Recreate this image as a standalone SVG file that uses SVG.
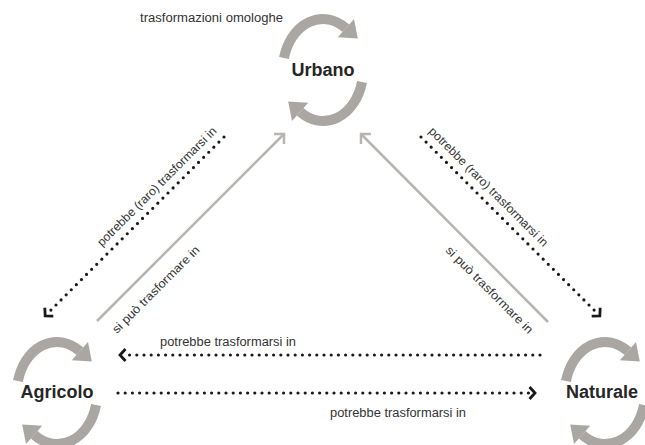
<svg xmlns="http://www.w3.org/2000/svg" xmlns:xlink="http://www.w3.org/1999/xlink" width="645" height="445" viewBox="0 0 645 445">
  <style>
    .bg { fill: #ffffff; }
    .cyc-arc { fill: none; stroke: #aaa7a3; stroke-width: 10; }
    .cyc-head { fill: #aaa7a3; }
    .node-label { font-family: "Liberation Sans", Arial, sans-serif; font-weight: bold; font-size: 18px; fill: #262626; text-anchor: middle; }
    .edge-label { font-family: "Liberation Sans", Arial, sans-serif; font-size: 12px; fill: #333333; }
    .dotted { fill: none; stroke: #1a1a1a; stroke-width: 3.2; stroke-linecap: round; stroke-dasharray: 0 7.2; }
    .solid { fill: none; stroke: #b8b5b1; stroke-width: 2.5; }
  </style>
  <defs>
    <!-- two-arrow cycle symbol drawn around a node label -->
    <g id="cycle">
      <path class="cyc-arc" d="M -39,-12 A 40 51 0 0 1 22.9,-41.8"/>
      <polygon class="cyc-head" points="31,-51 14.8,-32.7 34.8,-31.5"/>
      <path class="cyc-arc" d="M 39,12 A 40 51 0 0 1 -22.9,41.8"/>
      <polygon class="cyc-head" points="-31,51 -14.8,32.7 -34.8,31.5"/>
    </g>
    <marker id="chev-black" markerUnits="userSpaceOnUse" viewBox="-10 -10 20 20" markerWidth="20" markerHeight="20" refX="-4" refY="0" orient="auto">
      <path d="M -5.5,-6 L 0,0 L -5.5,6" fill="none" stroke="#1a1a1a" stroke-width="2.8" stroke-linejoin="miter"/>
    </marker>
    <marker id="chev-grey" markerUnits="userSpaceOnUse" viewBox="-10 -10 20 20" markerWidth="20" markerHeight="20" refX="0" refY="0" orient="auto">
      <path d="M -7,-7 L 0,0 L -7,7" fill="none" stroke="#b8b5b1" stroke-width="2.5"/>
    </marker>
  </defs>

  <rect class="bg" x="0" y="0" width="645" height="445"/>

  <!-- connectors -->
  <g id="connectors">
    <!-- solid: Agricolo / Naturale -> Urbano -->
    <line class="solid" x1="97" y1="321" x2="284" y2="134" marker-end="url(#chev-grey)"/>
    <line class="solid" x1="548" y1="322" x2="361" y2="134" marker-end="url(#chev-grey)"/>
    <!-- dotted: Urbano -> Agricolo / Naturale (rare) -->
    <line class="dotted" x1="224" y1="137" x2="48" y2="313" marker-end="url(#chev-black)"/>
    <line class="dotted" x1="421" y1="137" x2="597" y2="313" marker-end="url(#chev-black)"/>
    <!-- dotted: Naturale <-> Agricolo -->
    <line class="dotted" x1="540" y1="355" x2="124" y2="355" marker-end="url(#chev-black)"/>
    <line class="dotted" x1="118" y1="393" x2="531" y2="393" marker-end="url(#chev-black)"/>

    <text class="edge-label" transform="translate(102,247) rotate(-45)" textLength="163" lengthAdjust="spacingAndGlyphs">potrebbe (raro) trasformarsi in</text>
    <text class="edge-label" transform="translate(428,132) rotate(45)" textLength="163" lengthAdjust="spacingAndGlyphs">potrebbe (raro) trasformarsi in</text>
    <text class="edge-label" transform="translate(117,334) rotate(-45)" textLength="118" lengthAdjust="spacingAndGlyphs">si può trasformare in</text>
    <text class="edge-label" transform="translate(445,251) rotate(45)" textLength="118" lengthAdjust="spacingAndGlyphs">si può trasformare in</text>
    <text class="edge-label" x="160" y="346" textLength="136" lengthAdjust="spacingAndGlyphs">potrebbe trasformarsi in</text>
    <text class="edge-label" x="330" y="417" textLength="136" lengthAdjust="spacingAndGlyphs">potrebbe trasformarsi in</text>
  </g>

  <!-- nodes -->
  <g id="node-urbano">
    <use xlink:href="#cycle" x="323" y="70"/>
    <text class="edge-label" x="140" y="22" textLength="143" lengthAdjust="spacingAndGlyphs">trasformazioni omologhe</text>
    <text class="node-label" x="323" y="76">Urbano</text>
  </g>
  <g id="node-agricolo">
    <use xlink:href="#cycle" x="57" y="393"/>
    <text class="node-label" x="57" y="398">Agricolo</text>
  </g>
  <g id="node-naturale">
    <use xlink:href="#cycle" x="605" y="393"/>
    <text class="node-label" x="602" y="398">Naturale</text>
  </g>
</svg>
